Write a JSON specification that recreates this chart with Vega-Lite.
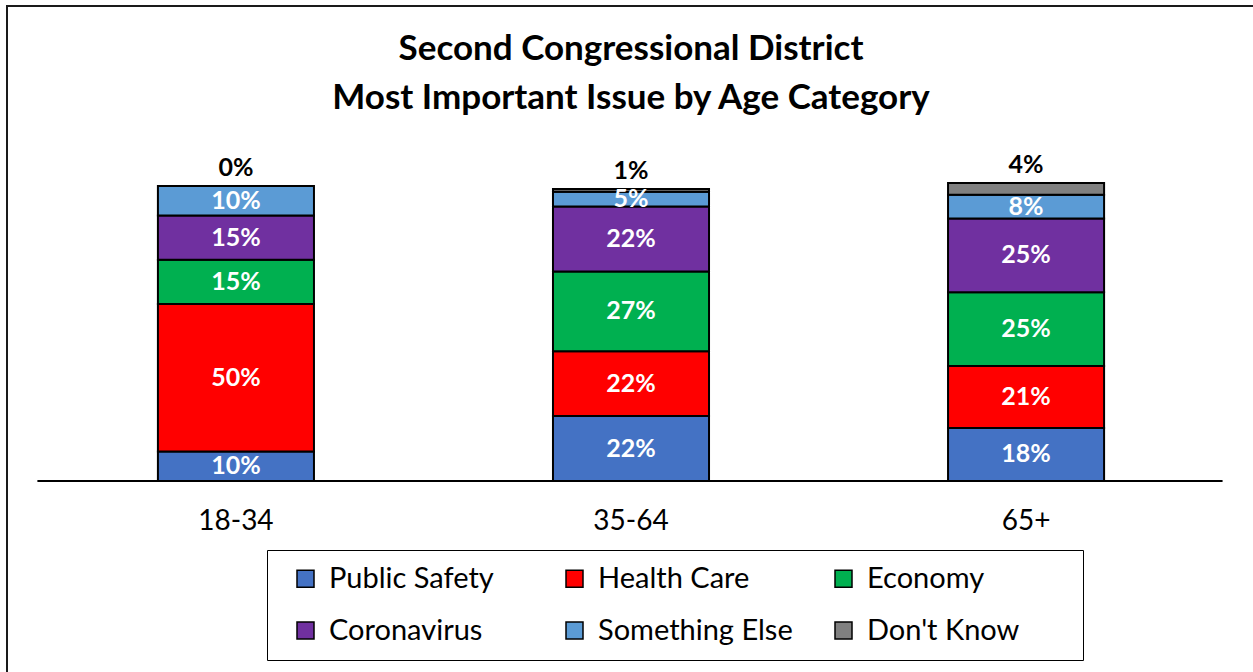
{
  "$schema": "https://vega.github.io/schema/vega-lite/v6.json",
  "width": 1248,
  "height": 670,
  "padding": {"left": 7, "top": 6, "right": 0, "bottom": 0},
  "background": "white",
  "config": {
    "font": "Lato",
    "view": {"stroke": "#1a1a1a", "strokeWidth": 2}
  },
  "title": {
    "text": ["Second Congressional District", "Most Important Issue by Age Category"],
    "font": "Lato",
    "fontSize": 35,
    "fontWeight": "bold",
    "color": "#000000",
    "lineHeight": 49,
    "anchor": "middle",
    "offset": -110
  },
  "data": {
    "values": [
      {"age": "18-34", "issue": "Public Safety", "order": 1, "pct": 10},
      {"age": "18-34", "issue": "Health Care", "order": 2, "pct": 50},
      {"age": "18-34", "issue": "Economy", "order": 3, "pct": 15},
      {"age": "18-34", "issue": "Coronavirus", "order": 4, "pct": 15},
      {"age": "18-34", "issue": "Something Else", "order": 5, "pct": 10},
      {"age": "18-34", "issue": "Don't Know", "order": 6, "pct": 0},
      {"age": "35-64", "issue": "Public Safety", "order": 1, "pct": 22},
      {"age": "35-64", "issue": "Health Care", "order": 2, "pct": 22},
      {"age": "35-64", "issue": "Economy", "order": 3, "pct": 27},
      {"age": "35-64", "issue": "Coronavirus", "order": 4, "pct": 22},
      {"age": "35-64", "issue": "Something Else", "order": 5, "pct": 5},
      {"age": "35-64", "issue": "Don't Know", "order": 6, "pct": 1},
      {"age": "65+", "issue": "Public Safety", "order": 1, "pct": 18},
      {"age": "65+", "issue": "Health Care", "order": 2, "pct": 21},
      {"age": "65+", "issue": "Economy", "order": 3, "pct": 25},
      {"age": "65+", "issue": "Coronavirus", "order": 4, "pct": 25},
      {"age": "65+", "issue": "Something Else", "order": 5, "pct": 8},
      {"age": "65+", "issue": "Don't Know", "order": 6, "pct": 4}
    ]
  },
  "transform": [
    {"stack": "pct", "groupby": ["age"], "sort": [{"field": "order", "order": "ascending"}], "as": ["lo", "hi"]},
    {"calculate": "(datum.lo + datum.hi) / 2", "as": "mid"},
    {"calculate": "datum.pct + '%'", "as": "label"}
  ],
  "encoding": {
    "x": {
      "field": "age",
      "type": "nominal",
      "sort": ["18-34", "35-64", "65+"],
      "scale": {"paddingInner": 0.605, "paddingOuter": 0.382},
      "axis": {
        "title": null,
        "orient": "bottom",
        "offset": -195,
        "domain": false,
        "ticks": false,
        "labelAngle": 0,
        "labelPadding": 26,
        "labelFont": "Lato",
        "labelFontSize": 28,
        "labelColor": "#000000"
      }
    }
  },
  "layer": [
    {
      "mark": {"type": "bar", "stroke": "#000000", "strokeWidth": 2},
      "encoding": {
        "y": {
          "field": "lo",
          "type": "quantitative",
          "scale": {"domain": [-66.1, 161.0], "nice": false, "zero": false},
          "axis": null
        },
        "y2": {"field": "hi"},
        "color": {
          "field": "issue",
          "type": "nominal",
          "scale": {
            "domain": ["Public Safety", "Health Care", "Economy", "Coronavirus", "Something Else", "Don't Know"],
            "range": ["#4472C4", "#FF0000", "#00B050", "#7030A0", "#5B9BD5", "#808080"]
          },
          "legend": {
            "title": " ",
            "titleOrient": "right",
            "titlePadding": 50,
            "titleFontSize": 10,
            "orient": "none",
            "legendX": 260,
            "legendY": 544,
            "direction": "horizontal",
            "columns": 3,
            "gridAlign": "all",
            "columnPadding": 26,
            "rowPadding": 22,
            "padding": 14,
            "symbolOffset": 10,
            "strokeColor": "#000000",
            "symbolType": "square",
            "symbolSize": 289,
            "symbolStrokeColor": "#000000",
            "symbolStrokeWidth": 1.5,
            "symbolOpacity": 1,
            "labelFont": "Lato",
            "labelFontSize": 29,
            "labelColor": "#000000",
            "labelOffset": 9,
            "labelLimit": 300
          }
        }
      }
    },
    {
      "transform": [{"filter": "datum.issue !== \"Don't Know\""}],
      "mark": {"type": "text", "color": "#ffffff", "fontWeight": "bold", "fontSize": 25, "baseline": "middle"},
      "encoding": {
        "y": {"field": "mid", "type": "quantitative"},
        "text": {"field": "label"}
      }
    },
    {
      "transform": [{"filter": "datum.issue === \"Don't Know\""}],
      "mark": {"type": "text", "color": "#000000", "fontWeight": "bold", "fontSize": 25, "baseline": "middle", "dy": -18},
      "encoding": {
        "y": {"field": "hi", "type": "quantitative"},
        "text": {"field": "label"}
      }
    },
    {
      "mark": {"type": "rule", "color": "#000000", "strokeWidth": 1.5, "xOffset": -198, "x2Offset": 196},
      "encoding": {
        "x": {"datum": "18-34"},
        "x2": {"datum": "65+"},
        "y": {"datum": 0}
      }
    }
  ]
}
